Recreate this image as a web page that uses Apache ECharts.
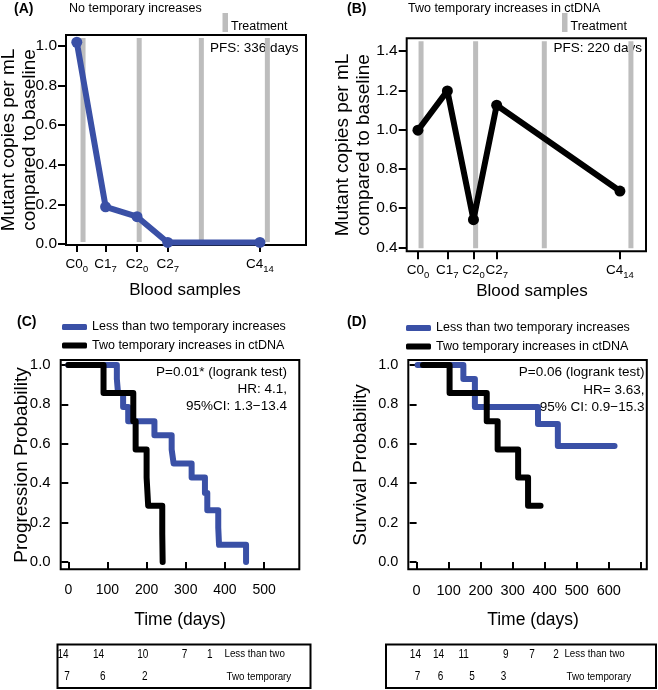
<!DOCTYPE html>
<html><head><meta charset="utf-8">
<script src="https://cdn.jsdelivr.net/npm/echarts@6/dist/echarts.min.js"></script>
<style>html,body{margin:0;padding:0;background:#fff}#c{width:658px;height:690px}</style>
</head><body><div id="c"></div>
<script>
// ---------- data ----------
const sampleLabels = [['C0','0'],['C1','7'],['C2','0'],['C2','7'],['C4','14']];
const sampleXA = [4.5, 16.5, 29.6, 42.4, 80.8];
const valuesA  = [1.019, 0.188, 0.138, 0.008, 0.008];
const treatXA  = [7.1, 30.5, 56.4, 83.9];
const sampleXB = [4.7, 17.0, 27.9, 37.6, 89.1];
const valuesB  = [0.997, 1.197, 0.541, 1.124, 0.687];
const treatXB  = [6.0, 28.8, 57.5, 93.7];
const yTicksA  = [0, 0.2, 0.4, 0.6, 0.8, 1.0];
const yTicksB  = [0.4, 0.6, 0.8, 1.0, 1.2, 1.4];
const yTicksKM = [0, 0.2, 0.4, 0.6, 0.8, 1.0];
const xTicksC  = [0, 100, 200, 300, 400, 500];
const xTicksD  = [0, 100, 200, 300, 400, 500, 600, 700];
const xLabelsD = [0, 100, 200, 300, 400, 500, 600];
const nameLess = 'Less than two temporary increases';
const nameTwo  = 'Two temporary increases in ctDNA';
const pfsLess = [[0,1],[124,0.929],[127,0.857],[140,0.786],[153,0.714],[220,0.643],[264,0.571],[269,0.5],[315,0.429],[349,0.35],[355,0.263],[383,0.175],[385,0.087],[454,0]];
const pfsTwo  = [[0,1],[90,0.857],[166,0.714],[172,0.571],[200,0.429],[204,0.286],[240,0.143],[241,0]];
const osLess  = [[3,1],[146,0.929],[182,0.786],[379,0.70],[441,0.589],[618,0.589]];
const osTwo   = [[20,1],[103,0.857],[219,0.714],[253,0.571],[317,0.429],[348,0.286],[387,0.286]];
const riskC1 = ['14','14','10','7','1'];
const riskC2 = ['7','6','2'];
const riskD1 = ['14','14','11','9','7','2'];
const riskD2 = ['7','6','5','3'];
const rowNames = ['Less than two','Two temporary'];

// ---------- layout ----------
const FF = '"Liberation Sans", Arial, Helvetica, sans-serif';
const BLUE = '#3a50a6', GRAY = '#bdbdbd';
const riskC1x = [63, 98.6, 142.7, 184.6, 209.8], riskC2x = [67.1, 102.8, 144.8];
const riskD1x = [415.4, 438.5, 463.7, 505.7, 532, 556], riskD2x = [417.5, 440.6, 472, 503.6];

function nearest(arr, v){let b=0;for(let i=1;i<arr.length;i++){if(Math.abs(arr[i]-v)<Math.abs(arr[b]-v))b=i;}return b;}

const chart = echarts.init(document.getElementById('c'), null, {renderer:'canvas'});

const grids = [
  {left:66, top:35, width:240, height:210},
  {left:406.7, top:38.3, width:239.3, height:213},
  {left:60.7, top:360, width:238.6, height:209.3},
  {left:408.3, top:360, width:238.5, height:209.3}
].map(g => Object.assign(g, {show:true, borderColor:'#000', borderWidth:2, backgroundColor:'transparent', containLabel:false, outerBoundsMode:'none'}));

const tickStyle = {color:'#000', width:2};
function sampleAxis(gi, xs){
  return {gridIndex:gi, type:'value', min:0, max:100,
    axisLine:{show:false}, splitLine:{show:false},
    axisTick:{show:true, customValues:xs, length:8, lineStyle:tickStyle},
    axisLabel:{customValues:xs, margin:12,
      formatter: v => { const i = nearest(xs, v); return '{m|'+sampleLabels[i][0]+'}{s|'+sampleLabels[i][1]+'}'; },
      rich:{ m:{fontSize:13.5, fontFamily:FF, color:'#000', lineHeight:16, verticalAlign:'top'},
             s:{fontSize:9.5, fontFamily:FF, color:'#000', lineHeight:12, verticalAlign:'top', padding:[7,0,0,0]} } } };
}
function valAxisY(gi, min, max, ticks, fs, margin, tlen){
  return {gridIndex:gi, type:'value', min:min, max:max,
    axisLine:{show:false}, splitLine:{show:false},
    axisTick:{show:true, customValues:ticks, length:tlen, lineStyle:tickStyle},
    axisLabel:{customValues:ticks, formatter:v=>v.toFixed(1), fontSize:fs, fontFamily:FF, color:'#000', margin:margin}};
}
function dayAxis(gi, min, max, ticks, labels, fs){
  return {gridIndex:gi, type:'value', min:min, max:max,
    axisLine:{show:false}, splitLine:{show:false},
    axisTick:{show:true, customValues:ticks, length:7, lineStyle:tickStyle},
    axisLabel:{customValues:labels, fontSize:fs, fontFamily:FF, color:'#000', margin:14}};
}

function treatSeries(gi, xs){
  return {type:'custom', xAxisIndex:gi, yAxisIndex:gi, z:1, silent:true,
    data: xs.map(v=>[v, 0]),
    renderItem:(params, api)=>{
      const x = api.coord([api.value(0), api.value(1)])[0];
      const cs = params.coordSys;
      return {type:'rect', shape:{x:x-2.5, y:cs.y+3, width:5, height:cs.height-6}, style:{fill:GRAY}};
    }};
}
function sampleSeries(gi, xs, ys, color){
  return {type:'line', xAxisIndex:gi, yAxisIndex:gi, z:3, silent:true,
    data: xs.map((x,i)=>[x, ys[i]]),
    symbol:'circle', symbolSize:11, showSymbol:true,
    color: color, itemStyle:{color:color},
    lineStyle:{color:color, width:6, cap:'round', join:'round'}};
}
function kmSeries(gi, name, data, color, z){
  return {type:'line', name:name, xAxisIndex:gi, yAxisIndex:gi, z:z, silent:true,
    data:data, step:'end', showSymbol:false, symbol:'none',
    color:color, itemStyle:{color:color},
    lineStyle:{color:color, width:6, cap:'round', join:'round'}};
}

function T(x, y, text, size, align, opts){
  opts = opts || {};
  return Object.assign({type:'text', x:x, y:y, silent:true,
    style:{text:text, fill:'#000', fontSize:size, fontFamily:FF, fontWeight:opts.bold?'bold':'normal',
      align:align||'left', textAlign:align||'left', verticalAlign:'middle', textVerticalAlign:'middle',
      lineHeight: opts.lineHeight}}, opts.el || {});
}

const elements = [
  T(14, 9, '(A)', 14, 'left', {bold:true}),
  T(69, 9, 'No temporary increases', 12.5),
  {type:'rect', shape:{x:222.5, y:13, width:5.5, height:19}, style:{fill:GRAY}, silent:true},
  T(231, 27, 'Treatment', 12.5),
  T(298.5, 48.5, 'PFS: 336 days', 13.5, 'right'),
  T(19, 140, 'Mutant copies per mL\ncompared to baseline', 19, 'center', {lineHeight:21, el:{rotation:Math.PI/2}}),
  T(185, 290, 'Blood samples', 17, 'center'),

  T(347, 9, '(B)', 14, 'left', {bold:true}),
  T(408, 9, 'Two temporary increases in ctDNA', 12.5),
  {type:'rect', shape:{x:562, y:13, width:5.5, height:19}, style:{fill:GRAY}, silent:true},
  T(570.5, 27, 'Treatment', 12.5),
  T(642, 48.5, 'PFS: 220 days', 13.5, 'right'),
  T(353, 145, 'Mutant copies per mL\ncompared to baseline', 19, 'center', {lineHeight:21, el:{rotation:Math.PI/2}}),
  T(532, 291, 'Blood samples', 17, 'center'),

  T(17, 322, '(C)', 14, 'left', {bold:true}),
  T(287, 372, 'P=0.01* (logrank test)', 13.5, 'right'),
  T(287, 389.5, 'HR: 4.1,', 13.5, 'right'),
  T(287, 406.7, '95%CI: 1.3\u221213.4', 13.5, 'right'),
  T(21.5, 465, 'Progression Probability', 19, 'center', {el:{rotation:Math.PI/2}}),
  T(180, 620, 'Time (days)', 17.5, 'center'),

  T(347, 322, '(D)', 14, 'left', {bold:true}),
  T(644.5, 372.7, 'P=0.06 (logrank test)', 13.5, 'right'),
  T(644.5, 390, 'HR= 3.63,', 13.5, 'right'),
  T(644.5, 407.3, '95% CI: 0.9\u221215.3', 13.5, 'right'),
  T(361, 465, 'Survival Probability', 19, 'center', {el:{rotation:Math.PI/2}}),
  T(533, 620, 'Time (days)', 17.5, 'center'),

  {type:'rect', shape:{x:57.5, y:644.5, width:253, height:43.5}, style:{fill:'none', stroke:'#000', lineWidth:2}, silent:true},
  {type:'rect', shape:{x:386, y:644.5, width:270, height:43.5}, style:{fill:'none', stroke:'#000', lineWidth:2}, silent:true}
];
function riskRow(vals, xs, y){ vals.forEach((v,i)=>elements.push(T(xs[i], y, v, 12.5, 'center', {el:{scaleX:0.8}}))); }
riskRow(riskC1, riskC1x, 655); riskRow(riskC2, riskC2x, 677);
riskRow(riskD1, riskD1x, 655); riskRow(riskD2, riskD2x, 677);
elements.push(T(224.5, 654, rowNames[0], 11.5, 'left', {el:{scaleX:0.85}}));
elements.push(T(226.6, 677, rowNames[1], 11.5, 'left', {el:{scaleX:0.85}}));
elements.push(T(564.4, 654, rowNames[0], 11.5, 'left', {el:{scaleX:0.85}}));
elements.push(T(566.5, 677, rowNames[1], 11.5, 'left', {el:{scaleX:0.85}}));

const legendBase = {orient:'vertical', padding:0, itemGap:4.5, itemWidth:25, itemHeight:6, icon:'roundRect',
  selectedMode:false, data:[nameLess, nameTwo], itemStyle:{borderWidth:0},
  textStyle:{fontSize:12.5, fontFamily:FF, color:'#000', lineHeight:14}};

chart.setOption({
  animation:false,
  backgroundColor:'#fff',
  grid: grids,
  xAxis: [
    sampleAxis(0, sampleXA),
    sampleAxis(1, sampleXB),
    dayAxis(2, -19.4, 590, xTicksC, xTicksC, 14),
    dayAxis(3, -25.9, 718.7, xTicksD, xLabelsD, 14.5)
  ],
  yAxis: [
    valAxisY(0, -0.005, 1.0556, yTicksA, 15.5, 9, 8),
    valAxisY(1, 0.38, 1.465, yTicksB, 15.5, 9, 8),
    valAxisY(2, -0.037, 1.025, yTicksKM, 15, 10, 7),
    valAxisY(3, -0.037, 1.025, yTicksKM, 14.5, 10, 7)
  ],
  legend: [
    Object.assign({left:62, top:320}, legendBase),
    Object.assign({left:406, top:321}, legendBase)
  ],
  series: [
    treatSeries(0, treatXA),
    sampleSeries(0, sampleXA, valuesA, BLUE),
    treatSeries(1, treatXB),
    sampleSeries(1, sampleXB, valuesB, '#000'),
    kmSeries(2, nameLess, pfsLess, BLUE, 2),
    kmSeries(2, nameTwo, pfsTwo, '#000', 3),
    kmSeries(3, nameLess, osLess, BLUE, 2),
    kmSeries(3, nameTwo, osTwo, '#000', 3)
  ],
  graphic: {elements: elements}
});
</script>
</body></html>
